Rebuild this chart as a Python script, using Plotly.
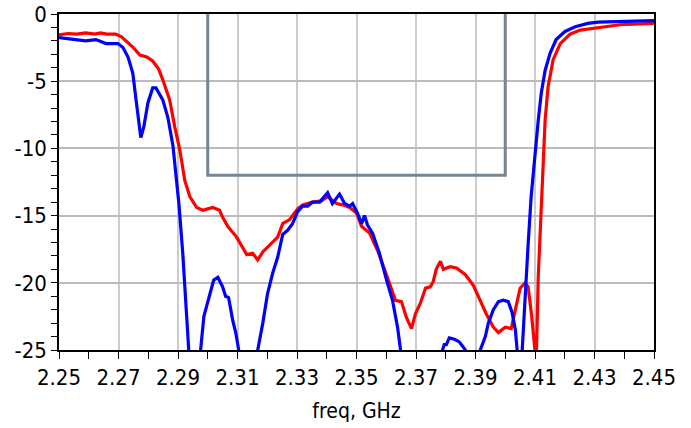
import plotly.graph_objects as go

# ---- data ----
red_f = [2.2500, 2.2530, 2.2560, 2.2590, 2.2620, 2.2640, 2.2660, 2.2690, 2.2710, 2.2730,
         2.2750, 2.2772, 2.2795, 2.2815, 2.2835, 2.2849, 2.2872, 2.2889, 2.2906, 2.2923,
         2.2940, 2.2963, 2.2983, 2.3000, 2.3017, 2.3040, 2.3047, 2.3067, 2.3097, 2.3131,
         2.3151, 2.3168, 2.3185, 2.3208, 2.3235, 2.3252, 2.3275, 2.3302, 2.3319, 2.3352,
         2.3383, 2.3403, 2.3433, 2.3453, 2.3477, 2.3500, 2.3517, 2.3544, 2.3571, 2.3594,
         2.3611, 2.3631, 2.3651, 2.3668, 2.3685, 2.3698, 2.3715, 2.3732, 2.3748, 2.3758,
         2.3768, 2.3782, 2.3792, 2.3815, 2.3836, 2.3866, 2.3893, 2.3916, 2.3936, 2.3960,
         2.3977, 2.4000, 2.4020, 2.4034, 2.4050, 2.4067, 2.4077, 2.4089, 2.4104, 2.4111,
         2.4124, 2.4134, 2.4144, 2.4161, 2.4185, 2.4218, 2.4252, 2.4319, 2.4386, 2.4500]
red_db = [-1.55, -1.45, -1.50, -1.40, -1.50, -1.40, -1.50, -1.50, -1.70, -2.10,
          -2.50, -3.05, -3.20, -3.50, -4.10, -4.90, -6.40, -8.40, -10.10, -12.40,
          -13.60, -14.40, -14.60, -14.50, -14.40, -14.60, -15.00, -15.80, -16.60, -17.90,
          -17.80, -18.30, -17.70, -17.20, -16.60, -15.60, -15.30, -14.50, -14.20, -14.00,
          -13.90, -13.60, -14.10, -14.20, -14.40, -14.80, -15.80, -16.30, -17.60, -19.00,
          -20.00, -21.30, -21.40, -22.60, -23.40, -22.30, -21.50, -20.40, -20.30, -19.90,
          -19.00, -18.40, -19.00, -18.80, -18.90, -19.40, -20.20, -21.40, -22.30, -23.30,
          -23.70, -23.30, -23.40, -22.00, -20.40, -20.00, -20.30, -22.50, -26.00, -19.50,
          -12.10, -7.90, -5.40, -3.40, -2.20, -1.50, -1.20, -1.00, -0.80, -0.70]

blue_f = [2.2500, 2.2547, 2.2590, 2.2624, 2.2658, 2.2698, 2.2715, 2.2732, 2.2748, 2.2758,
          2.2768, 2.2775, 2.2785, 2.2799, 2.2815, 2.2826, 2.2849, 2.2866, 2.2883, 2.2903,
          2.2916, 2.2926, 2.2936, 2.2950, 2.2965, 2.2976, 2.2987, 2.3003, 2.3020, 2.3034,
          2.3050, 2.3060, 2.3070, 2.3084, 2.3094, 2.3104, 2.3120, 2.3150, 2.3168, 2.3185,
          2.3201, 2.3218, 2.3235, 2.3252, 2.3268, 2.3285, 2.3302, 2.3319, 2.3336, 2.3352,
          2.3376, 2.3403, 2.3419, 2.3443, 2.3460, 2.3477, 2.3487, 2.3503, 2.3517, 2.3527,
          2.3537, 2.3554, 2.3577, 2.3601, 2.3621, 2.3638, 2.3648, 2.3660, 2.3780, 2.3789,
          2.3795, 2.3802, 2.3812, 2.3829, 2.3846, 2.3866, 2.3880, 2.3905, 2.3916, 2.3933,
          2.3943, 2.3960, 2.3977, 2.3993, 2.4010, 2.4023, 2.4034, 2.4040, 2.4048, 2.4057,
          2.4067, 2.4077, 2.4087, 2.4101, 2.4111, 2.4121, 2.4134, 2.4151, 2.4171, 2.4201,
          2.4235, 2.4278, 2.4312, 2.4500]
blue_db = [-1.75, -1.85, -2.00, -1.90, -2.20, -2.20, -2.50, -3.20, -4.40, -6.20,
           -7.90, -9.20, -8.40, -6.60, -5.50, -5.50, -6.40, -7.70, -9.80, -14.10,
           -17.80, -21.80, -25.00, -30.00, -30.00, -25.00, -22.50, -21.10, -19.80, -19.60,
           -20.30, -21.00, -21.10, -22.80, -23.70, -25.00, -30.00, -30.00, -25.00, -23.00,
           -20.80, -19.30, -18.10, -16.40, -16.10, -15.60, -14.70, -14.30, -14.30, -14.00,
           -14.00, -13.30, -14.10, -13.40, -14.10, -14.30, -14.10, -14.80, -15.60, -15.00,
           -15.70, -16.30, -17.80, -19.80, -21.30, -23.30, -25.00, -30.00, -30.00, -25.00,
           -24.60, -24.60, -24.10, -24.20, -24.40, -25.00, -30.00, -30.00, -25.00, -24.00,
           -23.00, -22.00, -21.40, -21.30, -21.40, -22.20, -23.50, -25.00, -30.00, -25.00,
           -20.50, -17.10, -13.60, -10.10, -7.90, -5.90, -4.20, -2.90, -1.90, -1.30,
           -0.95, -0.70, -0.60, -0.50]

mask_f = [2.30, 2.30, 2.40, 2.40]
mask_db = [0.0, -12.0, -12.0, 0.0]

x_ticks = [2.25, 2.27, 2.29, 2.31, 2.33, 2.35, 2.37, 2.39, 2.41, 2.43, 2.45]
y_ticks = [0, -5, -10, -15, -20, -25]

FONT = "DejaVu Sans Condensed, Liberation Sans, Arial, sans-serif"

fig = go.Figure()
fig.add_trace(go.Scatter(x=mask_f, y=mask_db, mode="lines",
                         line=dict(color="#778493", width=3), hoverinfo="skip"))
fig.add_trace(go.Scatter(x=red_f, y=red_db, mode="lines",
                         line=dict(color="#ff0000", width=3.2)))
fig.add_trace(go.Scatter(x=blue_f, y=blue_db, mode="lines",
                         line=dict(color="#0000ff", width=3.2)))

fig.update_layout(
    width=691, height=428,
    margin=dict(l=59, r=37, t=14, b=78, autoexpand=False),
    paper_bgcolor="white", plot_bgcolor="white",
    showlegend=False,
    font=dict(family=FONT, size=20, color="black"),
)
fig.update_xaxes(
    range=[2.25, 2.45], tickvals=x_ticks, ticktext=[f"{v:.2f}" for v in x_ticks],
    automargin=False,
    showgrid=True, gridcolor="#cccccc", gridwidth=2,
    showline=True, linecolor="black", linewidth=1.5, mirror=True,
    ticks="outside", ticklen=7, tickcolor="black",
    minor=dict(dtick=0.01, tick0=2.25, ticks="outside", ticklen=7, tickcolor="black", showgrid=False),
    tickfont=dict(family=FONT, size=22),
    title=dict(text="freq, GHz", font=dict(family=FONT, size=21), standoff=14),
    zeroline=False,
)
fig.update_yaxes(
    range=[-25, 0], tickvals=y_ticks, ticktext=[str(v) for v in y_ticks],
    automargin=False,
    showgrid=True, gridcolor="#bbbbbb", gridwidth=1.5,
    showline=True, linecolor="black", linewidth=1.5, mirror=True,
    ticks="outside", ticklen=6, tickcolor="black",
    minor=dict(dtick=1, tick0=0, ticks="outside", ticklen=6, tickcolor="black", showgrid=False),
    tickfont=dict(family=FONT, size=22),
    zeroline=False,
)

fig.write_html("out.html", config={"displayModeBar": False},
               post_script="document.body.style.margin='0';")
